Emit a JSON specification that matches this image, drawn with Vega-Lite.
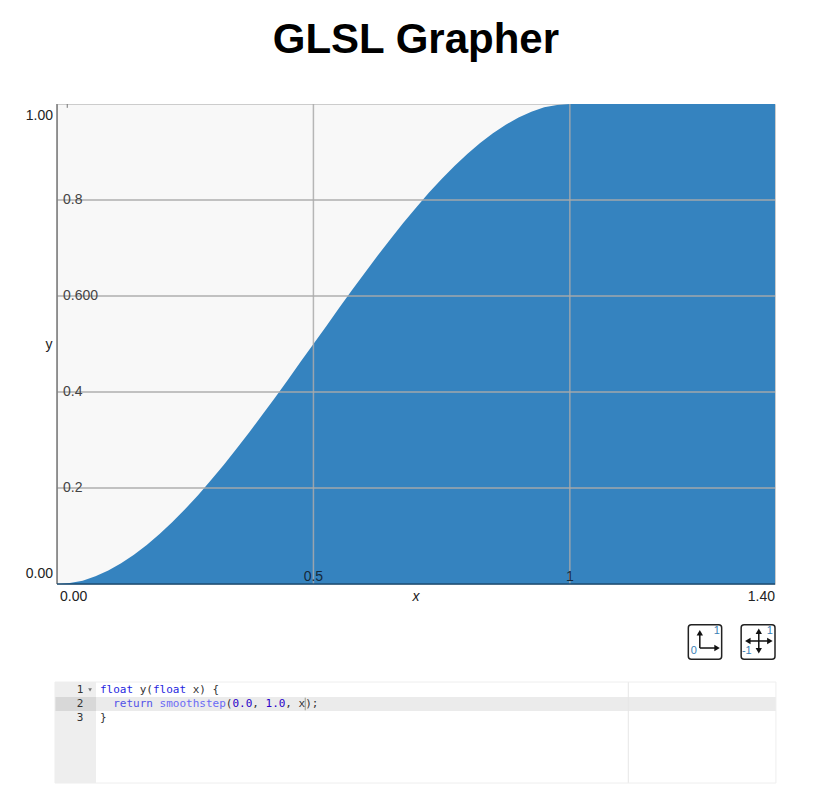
{"$schema":"https://vega.github.io/schema/vega-lite/v6.json","background":"white","padding":{"left":25,"top":18,"right":20,"bottom":10},"config":{"font":"Liberation Sans","view":{"stroke":null},"concat":{"spacing":40}},"bounds":"flush","title":{"text":"GLSL Grapher","fontSize":42,"fontWeight":"bold","color":"#000000","anchor":"middle","offset":41,"dx":15,"font":"Liberation Sans"},"vconcat":[{"width":718,"height":480,"view":{"fill":"#f8f8f8","stroke":"#cccccc"},"encoding":{"x":{"field":"x","type":"quantitative","scale":{"domain":[0,1.4],"nice":false,"zero":false},"axis":null},"y":{"field":"y","type":"quantitative","scale":{"domain":[0,1],"nice":false,"zero":false},"axis":null}},"layer":[{"data":{"values":[{"x":0,"y":0},{"x":0.025,"y":0.002},{"x":0.05,"y":0.007},{"x":0.075,"y":0.016},{"x":0.1,"y":0.028},{"x":0.125,"y":0.043},{"x":0.15,"y":0.061},{"x":0.175,"y":0.081},{"x":0.2,"y":0.104},{"x":0.225,"y":0.129},{"x":0.25,"y":0.156},{"x":0.275,"y":0.185},{"x":0.3,"y":0.216},{"x":0.325,"y":0.248},{"x":0.35,"y":0.282},{"x":0.375,"y":0.316},{"x":0.4,"y":0.352},{"x":0.425,"y":0.388},{"x":0.45,"y":0.425},{"x":0.475,"y":0.463},{"x":0.5,"y":0.5},{"x":0.525,"y":0.537},{"x":0.55,"y":0.575},{"x":0.575,"y":0.612},{"x":0.6,"y":0.648},{"x":0.625,"y":0.684},{"x":0.65,"y":0.718},{"x":0.675,"y":0.752},{"x":0.7,"y":0.784},{"x":0.725,"y":0.815},{"x":0.75,"y":0.844},{"x":0.775,"y":0.871},{"x":0.8,"y":0.896},{"x":0.825,"y":0.919},{"x":0.85,"y":0.939},{"x":0.875,"y":0.957},{"x":0.9,"y":0.972},{"x":0.925,"y":0.984},{"x":0.95,"y":0.993},{"x":0.975,"y":0.998},{"x":1,"y":1},{"x":1.4,"y":1}]},"mark":{"type":"area","color":"#3583bf","opacity":1}},{"data":{"values":[{"y":0.2},{"y":0.4},{"y":0.6},{"y":0.8}]},"mark":{"type":"rule","color":"#aaaaaa","opacity":0.7,"strokeWidth":2},"encoding":{"x":{"value":0},"x2":{"value":718}}},{"data":{"values":[{"x":0.5},{"x":1}]},"mark":{"type":"rule","color":"#aaaaaa","opacity":0.85,"strokeWidth":1.5},"encoding":{"y":{"value":0},"y2":{"value":480}}},{"data":{"values":[{"x":0}]},"mark":{"type":"rule","color":"#777777","strokeWidth":1.5},"encoding":{"y":{"value":0},"y2":{"value":480}}},{"data":{"values":[{"y":0}]},"mark":{"type":"rule","color":"#1d4d73","strokeWidth":1.5},"encoding":{"x":{"value":0},"x2":{"value":718}}},{"data":{"values":[{"x":0.02,"y":1,"y2":0.992}]},"mark":{"type":"rule","color":"#777777","strokeWidth":1},"encoding":{"y2":{"field":"y2"}}},{"data":{"values":[{"x":0,"y":1,"t":"1.00"}]},"mark":{"type":"text","align":"right","baseline":"middle","dx":-4,"dy":12,"fontSize":14,"color":"#222222"},"encoding":{"text":{"field":"t"}}},{"data":{"values":[{"x":0,"y":0,"t":"0.00"}]},"mark":{"type":"text","align":"right","baseline":"middle","dx":-4,"dy":-10,"fontSize":14,"color":"#222222"},"encoding":{"text":{"field":"t"}}},{"data":{"values":[{"x":0,"y":0.8,"t":"0.8"},{"x":0,"y":0.6,"t":"0.600"},{"x":0,"y":0.4,"t":"0.4"},{"x":0,"y":0.2,"t":"0.2"}]},"mark":{"type":"text","align":"left","baseline":"middle","dx":6,"fontSize":14,"color":"#444444"},"encoding":{"text":{"field":"t"}}},{"data":{"values":[{"x":0.5,"y":0,"t":"0.5"},{"x":1,"y":0,"t":"1"}]},"mark":{"type":"text","align":"center","baseline":"middle","dy":-7,"fontSize":14,"color":"#16293a"},"encoding":{"text":{"field":"t"}}},{"data":{"values":[{"x":0,"y":0,"t":"0.00"}]},"mark":{"type":"text","align":"left","baseline":"middle","dx":3,"dy":13,"fontSize":14,"color":"#222222"},"encoding":{"text":{"field":"t"}}},{"data":{"values":[{"x":1.4,"y":0,"t":"1.40"}]},"mark":{"type":"text","align":"right","baseline":"middle","dy":13,"fontSize":14,"color":"#222222"},"encoding":{"text":{"field":"t"}}},{"data":{"values":[{"x":0.7,"y":0,"t":"x"}]},"mark":{"type":"text","align":"center","baseline":"middle","dy":13,"fontSize":14,"fontStyle":"italic","color":"#222222"},"encoding":{"text":{"field":"t"}}},{"data":{"values":[{"x":0,"y":0.498,"t":"y"}]},"mark":{"type":"text","align":"center","baseline":"middle","dx":-8,"fontSize":14,"color":"#222222"},"encoding":{"text":{"field":"t"}}}]},{"width":718,"height":18,"encoding":{"x":{"field":"x","type":"quantitative","scale":{"domain":[0,1.4],"nice":false,"zero":false},"axis":null},"y":{"field":"y","type":"quantitative","scale":{"domain":[0.5,1],"nice":false,"zero":false},"axis":null}},"layer":[{"data":{"values":[{"x":1.231,"x2":1.296,"y":0.02,"y2":0.98},{"x":1.334,"x2":1.4,"y":0.02,"y2":0.98}]},"mark":{"type":"rect","fill":"#ffffff","stroke":"#222222","strokeWidth":1.5,"cornerRadius":3},"encoding":{"x2":{"field":"x2"},"y2":{"field":"y2"}}},{"data":{"values":[{"x":1.2534,"x2":1.2534,"y":0.333,"y2":0.74},{"x":1.2534,"x2":1.285,"y":0.333,"y2":0.333},{"x":1.3684,"x2":1.3684,"y":0.27,"y2":0.78},{"x":1.349,"x2":1.386,"y":0.528,"y2":0.528}]},"mark":{"type":"rule","color":"#111111","strokeWidth":1.5},"encoding":{"x2":{"field":"x2"},"y2":{"field":"y2"}}},{"data":{"values":[{"x":1.2534,"y":0.76,"s":"triangle-up"},{"x":1.287,"y":0.333,"s":"triangle-right"},{"x":1.3684,"y":0.8,"s":"triangle-up"},{"x":1.3684,"y":0.26,"s":"triangle-down"},{"x":1.347,"y":0.528,"s":"triangle-left"},{"x":1.39,"y":0.528,"s":"triangle-right"}]},"mark":{"type":"point","filled":true,"color":"#111111","size":40,"opacity":1},"encoding":{"shape":{"field":"s","type":"nominal","scale":null}}},{"data":{"values":[{"x":1.2865,"y":0.806,"t":"1"},{"x":1.2417,"y":0.25,"t":"0"},{"x":1.39,"y":0.806,"t":"1"},{"x":1.345,"y":0.25,"t":"-1"}]},"mark":{"type":"text","align":"center","baseline":"middle","fontSize":11,"color":"#3a7fb5"},"encoding":{"text":{"field":"t"}}}]},{"width":718,"height":101,"encoding":{"x":{"field":"col","type":"quantitative","scale":{"domain":[-6.495,101.96],"nice":false,"zero":false},"axis":null},"y":{"field":"line","type":"quantitative","scale":{"domain":[7.64,0.43],"nice":false,"zero":false},"axis":null}},"layer":[{"data":{"values":[{"col":-6.8,"col2":102.1,"line":0.43,"line2":7.64,"c":"#ffffff"},{"col":-6.8,"col2":-0.6,"line":0.43,"line2":7.64,"c":"#eeeeee"},{"col":-0.6,"col2":102.1,"line":1.5,"line2":2.5,"c":"#ebebeb"},{"col":-6.8,"col2":-0.6,"line":1.5,"line2":2.5,"c":"#d8d8d8"}]},"mark":{"type":"rect"},"encoding":{"x2":{"field":"col2"},"y2":{"field":"line2"},"color":{"field":"c","type":"nominal","scale":null,"legend":null}}},{"data":{"values":[{"col":79.8,"line":0.43,"line2":7.64}]},"mark":{"type":"rule","color":"#e6e6e6","strokeWidth":1},"encoding":{"y2":{"field":"line2"}}},{"data":{"values":[{"col":-6.8,"col2":102.1,"line":0.43,"line2":7.64}]},"mark":{"type":"rect","fill":null,"stroke":"#eeeeee","strokeWidth":1},"encoding":{"x2":{"field":"col2"},"y2":{"field":"line2"}}},{"data":{"values":[{"col":31,"line":1.55,"line2":2.45}]},"mark":{"type":"rule","color":"#9a9a8a","strokeWidth":1},"encoding":{"y2":{"field":"line2"}}},{"data":{"values":[{"col":-1.5,"line":1}]},"mark":{"type":"point","shape":"triangle-down","filled":true,"color":"#777777","size":14,"opacity":1}},{"data":{"values":[{"col":-2.5,"line":1,"t":"1"},{"col":-2.5,"line":2,"t":"2"},{"col":-2.5,"line":3,"t":"3"}]},"mark":{"type":"text","align":"right","baseline":"middle","font":"DejaVu Sans Mono","fontSize":11,"color":"#333333"},"encoding":{"text":{"field":"t"}}},{"data":{"values":[{"col":0,"line":1,"t":"float","c":"#1f1fe0"},{"col":6,"line":1,"t":"y(","c":"#333333"},{"col":8,"line":1,"t":"float","c":"#1f1fe0"},{"col":14,"line":1,"t":"x) {","c":"#333333"},{"col":2,"line":2,"t":"return","c":"#5252e8"},{"col":9,"line":2,"t":"smoothstep","c":"#6a6af5"},{"col":19,"line":2,"t":"(","c":"#333333"},{"col":20,"line":2,"t":"0.0","c":"#2a00c8"},{"col":23,"line":2,"t":",","c":"#333333"},{"col":25,"line":2,"t":"1.0","c":"#2a00c8"},{"col":28,"line":2,"t":",","c":"#333333"},{"col":30,"line":2,"t":"x","c":"#333333"},{"col":31,"line":2,"t":");","c":"#333333"},{"col":0,"line":3,"t":"}","c":"#333333"}]},"mark":{"type":"text","align":"left","baseline":"middle","font":"DejaVu Sans Mono","fontSize":11},"encoding":{"text":{"field":"t"},"color":{"field":"c","type":"nominal","scale":null,"legend":null}}}]}]}
